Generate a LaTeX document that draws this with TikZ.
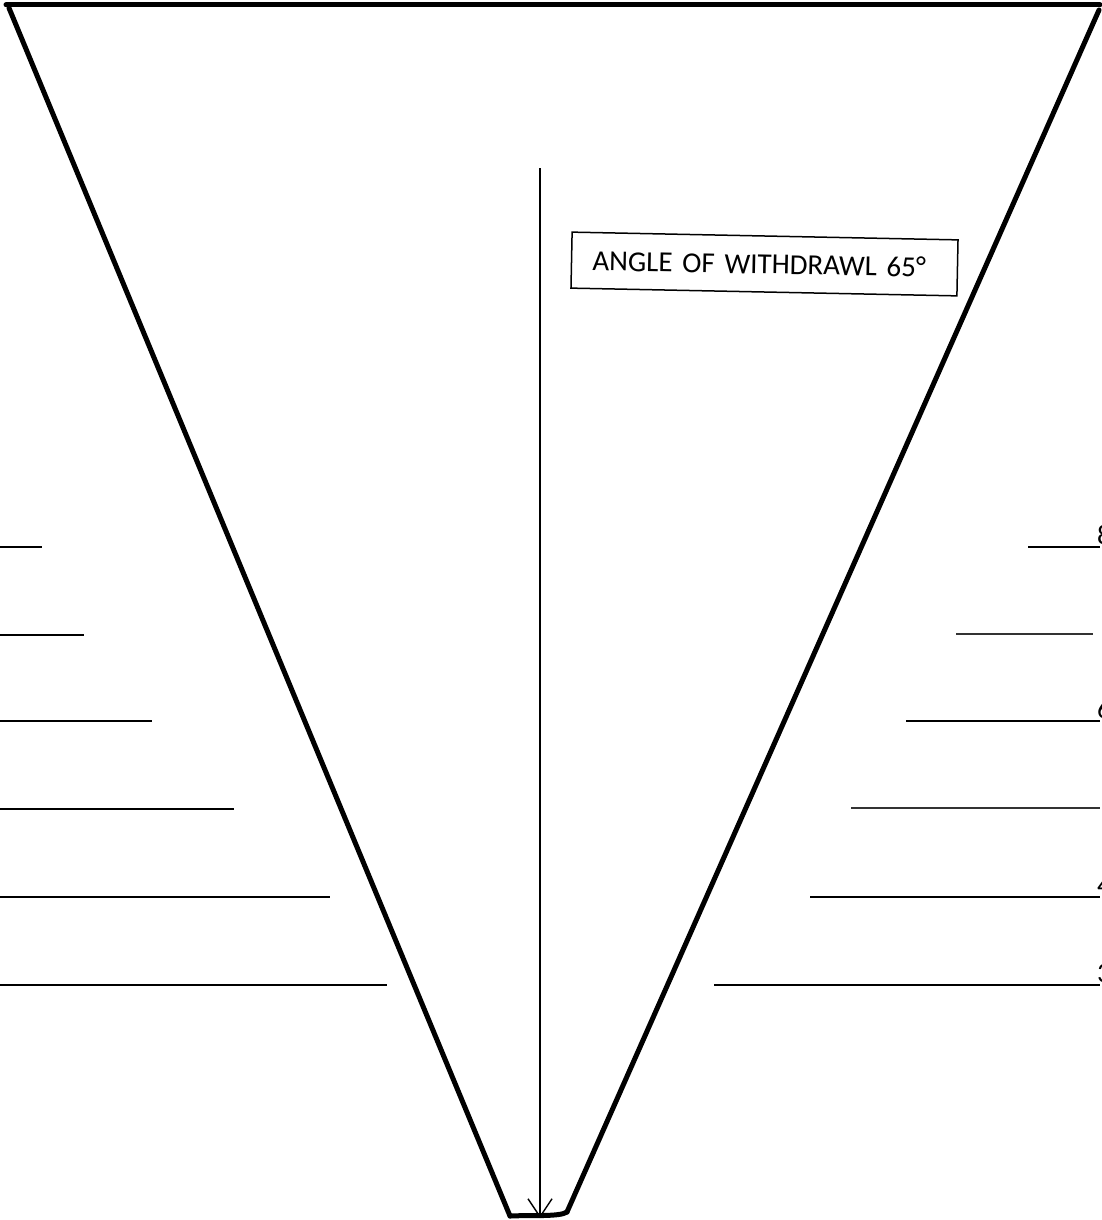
\documentclass[tikz,border=0pt]{standalone}
\usepackage{fontspec}
\setmainfont{Carlito}
\usetikzlibrary{arrows.meta}
\begin{document}
\begin{tikzpicture}[x=1pt,y=-1pt,
  funnel/.style={line width=5pt,line cap=round,line join=round},
  thickrule/.style={line width=2.8pt},
  thinrule/.style={line width=1.4pt,black!80},
  axisline/.style={line width=1.6pt},
  labelbox/.style={draw,line width=1.5pt,text width=344pt,align=left,inner xsep=21pt,inner ysep=0pt,minimum height=56pt,font=\fontsize{29}{32}\selectfont},
  cutlabel/.style={anchor=base west,inner sep=0pt,font=\fontsize{28}{30}\selectfont}]
\useasboundingbox (0,0) rectangle (1102,1220);
% funnel outline
\coordinate (tl) at (6,5);
\coordinate (tr) at (1100,5);
\coordinate (ltop) at (9,8);
\coordinate (rtop) at (1099,10);
\coordinate (lbot) at (510,1216);
\coordinate (rbot) at (567,1212);
\draw[funnel] (tl) -- (tr);
\draw[funnel] (ltop) -- (lbot);
\draw[funnel] (rtop) -- (rbot);
\draw[funnel] (lbot) .. controls (530,1215) and (560,1217) .. (rbot);
% axis with arrow
\coordinate (axtop) at (540,168);
\coordinate (axbot) at (540,1218);
\draw[axisline,-{Straight Barb[length=18pt,width=24pt,line width=1.4pt]}] (axtop) -- (axbot);
% label box
\node[labelbox,rotate=-1.15] (lbl) at (764.5,264) {ANGLE OF WITHDRAWL 65°};
% left rules
\foreach \y/\x [count=\i] in {547/42,635/84,721/152,809/234,897/330,985/387}{
  \coordinate (la\i) at (0,\y);
  \coordinate (lb\i) at (\x,\y);
  \draw[thickrule] (la\i) -- (lb\i);
}
% right rules
\coordinate (ra1) at (1028,547); \coordinate (rb1) at (1100,547);
\coordinate (ra2) at (956,634);  \coordinate (rb2) at (1093,634);
\coordinate (ra3) at (906,721);  \coordinate (rb3) at (1100,721);
\coordinate (ra4) at (851,808);  \coordinate (rb4) at (1100,808);
\coordinate (ra5) at (810,897);  \coordinate (rb5) at (1100,897);
\coordinate (ra6) at (714,985);  \coordinate (rb6) at (1100,985);
\draw[thickrule] (ra1) -- (rb1);
\draw[thinrule] (ra2) -- (rb2);
\draw[thickrule] (ra3) -- (rb3);
\draw[thinrule] (ra4) -- (rb4);
\draw[thickrule] (ra5) -- (rb5);
\draw[thickrule] (ra6) -- (rb6);
% cut-off numbers at right edge
\node[cutlabel] (n8) at (1097,544) {8};
\node[cutlabel] (n6) at (1097,718) {6};
\node[cutlabel] (n4) at (1097,894) {4};
\node[cutlabel] (n3) at (1097,982) {3};
\end{tikzpicture}
\end{document}
